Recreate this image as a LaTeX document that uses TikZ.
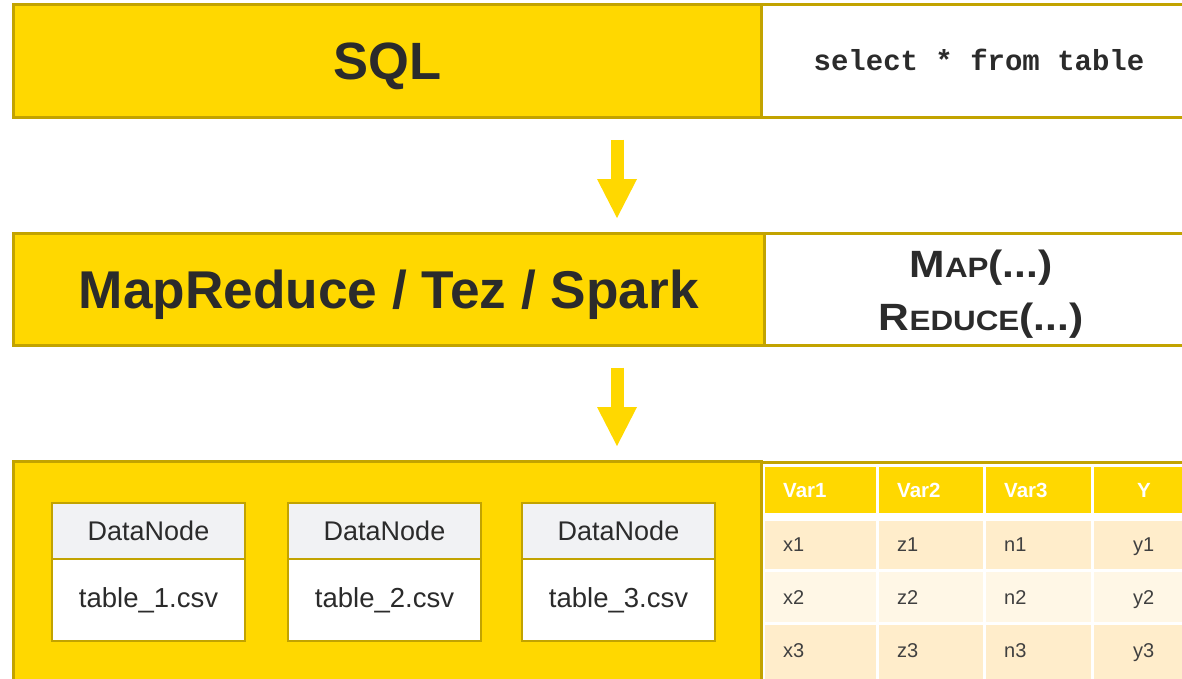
\documentclass[tikz,border=0pt]{standalone}
\usepackage{fontspec}
\setmainfont{Liberation Sans}
\newfontfamily\codefont{Liberation Mono}
\usetikzlibrary{arrows.meta,positioning}

\definecolor{sun}{HTML}{FFD800}
\definecolor{goldline}{HTML}{C2A300}
\definecolor{ink}{HTML}{2B2B2B}
\definecolor{cellgray}{HTML}{404040}
\definecolor{rowa}{HTML}{FFEDCB}
\definecolor{rowb}{HTML}{FFF7E6}
\definecolor{headgray}{HTML}{F1F2F4}

\newcommand{\fs}[1]{\fontsize{#1}{#1}\selectfont}

\tikzset{
  band/.style={draw=goldline, line width=2.5pt, fill=sun, text=ink,
    anchor=north west, inner sep=0pt, font=\bfseries},
  side/.style={draw=goldline, line width=2.5pt, fill=white, text=ink,
    anchor=north west, inner sep=0pt},
  flow/.style={draw=sun, line width=13pt,
    -{Triangle[length=39pt,width=40pt,line width=0pt]},
    shorten <=21pt, shorten >=14pt},
  dnhead/.style={draw=goldline, line width=2pt, fill=headgray, text=ink,
    anchor=north west, inner sep=0pt, minimum width=193pt, minimum height=56pt,
    font=\fs{27}},
  dnbody/.style={draw=goldline, line width=2pt, fill=white, text=ink,
    anchor=north west, inner sep=0pt, minimum width=193pt, minimum height=82pt,
    font=\fs{27.5}},
  tcell/.style={anchor=base west, inner sep=0pt, text=cellgray, font=\fs{20}},
  thead/.style={anchor=base west, inner sep=0pt, text=white, font=\bfseries\fs{20.5}},
}

\begin{document}
\begin{tikzpicture}[x=1pt, y=-1pt]
\useasboundingbox (0,0) rectangle (1182,678);
\clip (0,0) rectangle (1182,678);

% ---- SQL layer ----
\node[side, minimum width=440pt, minimum height=113pt] (sqlside) at (760,3) {};
\node[band, minimum width=748pt, minimum height=113pt, font=\bfseries\fs{52.5},
  text height=37.6pt, text depth=0pt] (sql) at (12,3) {SQL};
\node[text=ink, font=\codefont\bfseries\fs{29}] (query) at (979,60) {select * from table};

% ---- execution engine layer ----
\node[side, minimum width=440pt, minimum height=112pt] (mrside) at (763,232) {};
\node[band, minimum width=751pt, minimum height=112pt, font=\bfseries\fs{53.2},
  text height=38pt, text depth=0pt] (mr) at (12,232) {MapReduce / Tez / Spark};
\node[text=ink, font=\bfseries\fs{38}, align=center, inner sep=0pt] (ops) at (981,294.5)
  {\scalebox{1.12}[1]{M{\fs{28}AP}(...)}\\[15pt] \scalebox{1.12}[1]{R{\fs{28}EDUCE}(...)}};

% ---- storage layer ----
\node[side, minimum width=440pt, minimum height=240pt] (tblside) at (760,461) {};
\node[band, minimum width=748pt, minimum height=240pt] (hdfs) at (12,460) {};

% data nodes
\node[dnhead] (dn1h) at (51,502) {DataNode};
\node[dnbody] (dn1b) at (51,558) {table\_1.csv};
\node[dnhead] (dn2h) at (287,502) {DataNode};
\node[dnbody] (dn2b) at (287,558) {table\_2.csv};
\node[dnhead] (dn3h) at (521,502) {DataNode};
\node[dnbody] (dn3b) at (521,558) {table\_3.csv};

% table: header row
\fill[sun] (765,467) rectangle (876,513);
\fill[sun] (879,467) rectangle (983,513);
\fill[sun] (986,467) rectangle (1091,513);
\fill[sun] (1094,467) rectangle (1200,513);
% table: body rows
\foreach \ya/\yb/\c in {521/569/rowa, 572/622/rowb, 625/690/rowa}{
  \fill[\c] (765,\ya) rectangle (876,\yb);
  \fill[\c] (879,\ya) rectangle (983,\yb);
  \fill[\c] (986,\ya) rectangle (1091,\yb);
  \fill[\c] (1094,\ya) rectangle (1200,\yb);
}
\node[thead] (h1) at (783,497) {Var1};
\node[thead] (h2) at (897,497) {Var2};
\node[thead] (h3) at (1004,497) {Var3};
\node[thead] (h4) at (1137,497) {Y};

\node[tcell] (x1) at (783,551) {x1};
\node[tcell] (z1) at (897,551) {z1};
\node[tcell] (n1) at (1004,551) {n1};
\node[tcell] (y1) at (1133,551) {y1};

\node[tcell] (x2) at (783,604) {x2};
\node[tcell] (z2) at (897,604) {z2};
\node[tcell] (n2) at (1004,604) {n2};
\node[tcell] (y2) at (1133,604) {y2};

\node[tcell] (x3) at (783,657) {x3};
\node[tcell] (z3) at (897,657) {z3};
\node[tcell] (n3) at (1004,657) {n3};
\node[tcell] (y3) at (1133,657) {y3};

% ---- flow arrows ----
\coordinate (ax) at (617,0);
\draw[flow] (sql.south -| ax) -- (mr.north -| ax);
\draw[flow] (mr.south -| ax) -- (hdfs.north -| ax);
\end{tikzpicture}
\end{document}
